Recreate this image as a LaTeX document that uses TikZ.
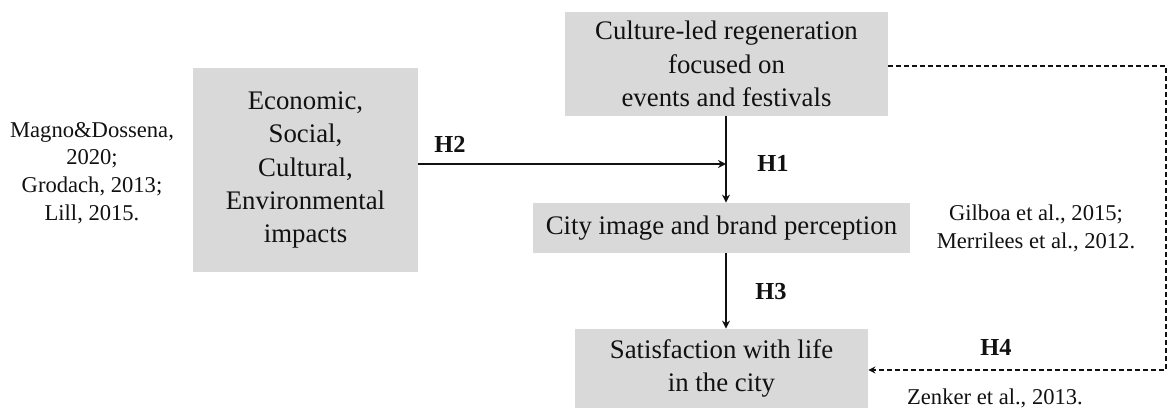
\documentclass[tikz,border=0pt]{standalone}
\usepackage{fontspec}
\setmainfont{Liberation Serif}
\usetikzlibrary{arrows.meta}
\definecolor{modelink}{HTML}{111111}
\definecolor{modelbox}{HTML}{D9D9D9}
\newcommand{\boxfont}{\fontsize{13.4}{16.7}\selectfont}
\newcommand{\citefont}{\fontsize{11.3}{13.9}\selectfont}

\begin{document}
\begin{tikzpicture}[
  x=0.5pt,
  y=-0.5pt,
  every node/.style={modelink},
  construct/.style={fill=modelbox, inner sep=0pt, align=center, font=\boxfont},
  source/.style={align=center, font=\citefont},
  hyp/.style={font=\fontsize{12.2}{14}\selectfont\bfseries},
  link/.style={modelink, line width=1pt, -{Stealth[length=4pt,width=4pt]}},
  dashlink/.style={modelink, line width=0.7pt, dash pattern=on 2.5pt off 1.5pt,
                   -{Stealth[length=3.5pt,width=3.5pt]}}
]
  % ---- same frame as the reference ----
  \path (0,0) rectangle (1169,408);

  % ---- the four constructs ----
  \node[construct, minimum width=161.5pt, minimum height=52pt] (culture) at (726.5,64)
    {Culture-led regeneration\\focused on\\events and festivals};
  \node[construct, minimum width=112.5pt, minimum height=102pt] (impacts) at (305.5,170)
    {Economic,\\Social,\\Cultural,\\Environmental\\impacts};
  \node[construct, minimum width=188.5pt, minimum height=25pt] (image) at (721.5,228)
    {City image and brand perception};
  \node[construct, minimum width=146.5pt, minimum height=39.5pt] (life) at (721.5,368.5)
    {Satisfaction with life\\in the city};

  % ---- literature beside the constructs ----
  \node[source] (lit1) at (92,173) {Magno\&Dossena,\\2020;\\Grodach, 2013;\\Lill, 2015.};
  \node[source] (lit2) at (1036,228) {Gilboa et al., 2015;\\Merrilees et al., 2012.};
  \node[source] (lit3) at (995,398) {Zenker et al., 2013.};

  % ---- solid paths H1, H2, H3 ----
  \coordinate (meet) at (726,164);
  \draw[link] (culture.south -| meet) -- (image.north -| meet);
  \draw[link] (impacts.east |- meet) -- (meet);
  \draw[link] (image.south -| meet) -- (life.north -| meet);
  \node[hyp] (h1) at (773,163) {H1};
  \node[hyp] (h2) at (450,144) {H2};
  \node[hyp] (h3) at (771,292) {H3};

  % ---- dashed path H4 round the right side ----
  \coordinate (topright) at (1166,66);
  \coordinate (lowright) at (1166,370);
  \draw[dashlink] (culture.east |- topright) -- (topright) -- (lowright) -- (life.east |- lowright);
  \node[hyp] (h4) at (996,347) {H4};
\end{tikzpicture}
\end{document}
